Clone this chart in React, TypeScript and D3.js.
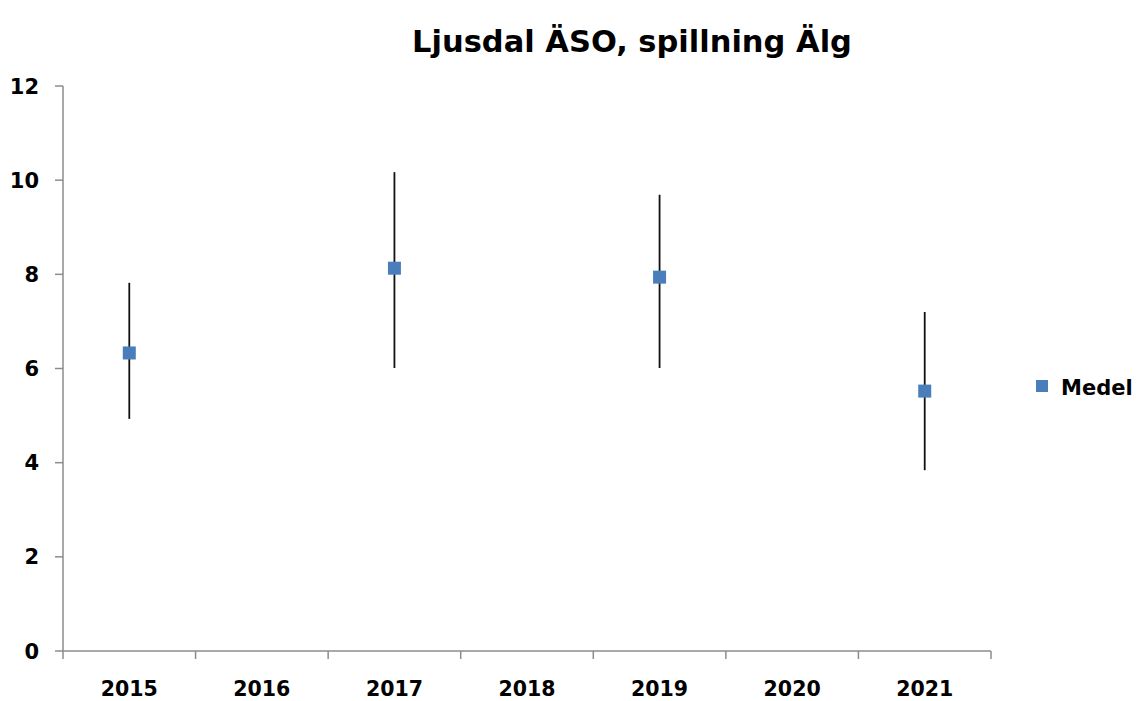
import React, { useEffect, useRef } from 'react';
import * as d3 from 'd3';

// data
const years = ['2015', '2016', '2017', '2018', '2019', '2020', '2021'];
const medelYears = ['2015', '2017', '2019', '2021'];
const medel = [6.33, 8.13, 7.94, 5.52];
const errLow = [4.93, 6.01, 6.01, 3.84];
const errHigh = [7.82, 10.17, 9.69, 7.2];
const yTicks = [0, 2, 4, 6, 8, 10, 12];

const W = 1139;
const H = 701;
const FONT = '"DejaVu Sans", Roboto, sans-serif';

export default function App() {
	const ref = useRef<SVGSVGElement>(null);

	useEffect(() => {
		const svg = d3.select(ref.current);
		svg.selectAll('*').remove();

		const margin = { top: 86, right: 148, bottom: 50, left: 63 };
		const plotW = W - margin.left - margin.right;
		const plotH = H - margin.top - margin.bottom;

		const x = d3.scaleBand().domain(years).range([0, plotW]);
		const y = d3.scaleLinear().domain([0, 12]).range([plotH, 0]);

		const g = svg.append('g').attr('transform', `translate(${margin.left},${margin.top})`);

		// title
		svg.append('text')
			.attr('x', 632)
			.attr('y', 52)
			.attr('text-anchor', 'middle')
			.style('font', `700 30.5px ${FONT}`)
			.attr('fill', '#000')
			.text('Ljusdal ÄSO, spillning Älg');

		const axisColor = '#8c8c8c';

		// y axis
		g.append('line')
			.attr('x1', 0).attr('x2', 0)
			.attr('y1', 0).attr('y2', plotH)
			.attr('stroke', axisColor).attr('stroke-width', 1.5);
		yTicks.forEach((t) => {
			g.append('line')
				.attr('x1', -8).attr('x2', 0)
				.attr('y1', y(t)).attr('y2', y(t))
				.attr('stroke', axisColor).attr('stroke-width', 1.5);
			g.append('text')
				.attr('x', -24)
				.attr('y', y(t))
				.attr('dy', '0.36em')
				.attr('text-anchor', 'end')
				.style('font', `700 21px ${FONT}`)
				.attr('fill', '#000')
				.text(t);
		});

		// x axis
		g.append('line')
			.attr('x1', 0).attr('x2', plotW)
			.attr('y1', plotH).attr('y2', plotH)
			.attr('stroke', axisColor).attr('stroke-width', 1.5);
		const edges = years.map((yr) => x(yr) as number).concat([plotW]);
		edges.forEach((e) => {
			g.append('line')
				.attr('x1', e).attr('x2', e)
				.attr('y1', plotH).attr('y2', plotH + 8)
				.attr('stroke', axisColor).attr('stroke-width', 1.5);
		});
		years.forEach((yr) => {
			g.append('text')
				.attr('x', (x(yr) as number) + x.bandwidth() / 2)
				.attr('y', plotH + 45)
				.attr('text-anchor', 'middle')
				.style('font', `700 20.5px ${FONT}`)
				.attr('fill', '#000')
				.text(yr);
		});

		// error bars
		medelYears.forEach((yr, i) => {
			const cx = (x(yr) as number) + x.bandwidth() / 2;
			g.append('line')
				.attr('x1', cx).attr('x2', cx)
				.attr('y1', y(errHigh[i])).attr('y2', y(errLow[i]))
				.attr('stroke', '#111').attr('stroke-width', 1.8);
		});

		// markers
		const s = 13;
		medelYears.forEach((yr, i) => {
			const cx = (x(yr) as number) + x.bandwidth() / 2;
			g.append('rect')
				.attr('x', cx - s / 2)
				.attr('y', y(medel[i]) - s / 2)
				.attr('width', s).attr('height', s)
				.attr('fill', '#4a7ebb');
		});

		// legend
		svg.append('rect')
			.attr('x', 1036).attr('y', 380)
			.attr('width', 12).attr('height', 12)
			.attr('fill', '#4a7ebb');
		svg.append('text')
			.attr('x', 1061)
			.attr('y', 387)
			.attr('dy', '0.36em')
			.style('font', `700 21px ${FONT}`)
			.attr('fill', '#000')
			.text('Medel');
	}, []);

	return (
		<div style={{ position: 'absolute', left: 0, top: 0, background: '#fff' }}>
			<svg ref={ref} width={W} height={H} />
		</div>
	);
}
